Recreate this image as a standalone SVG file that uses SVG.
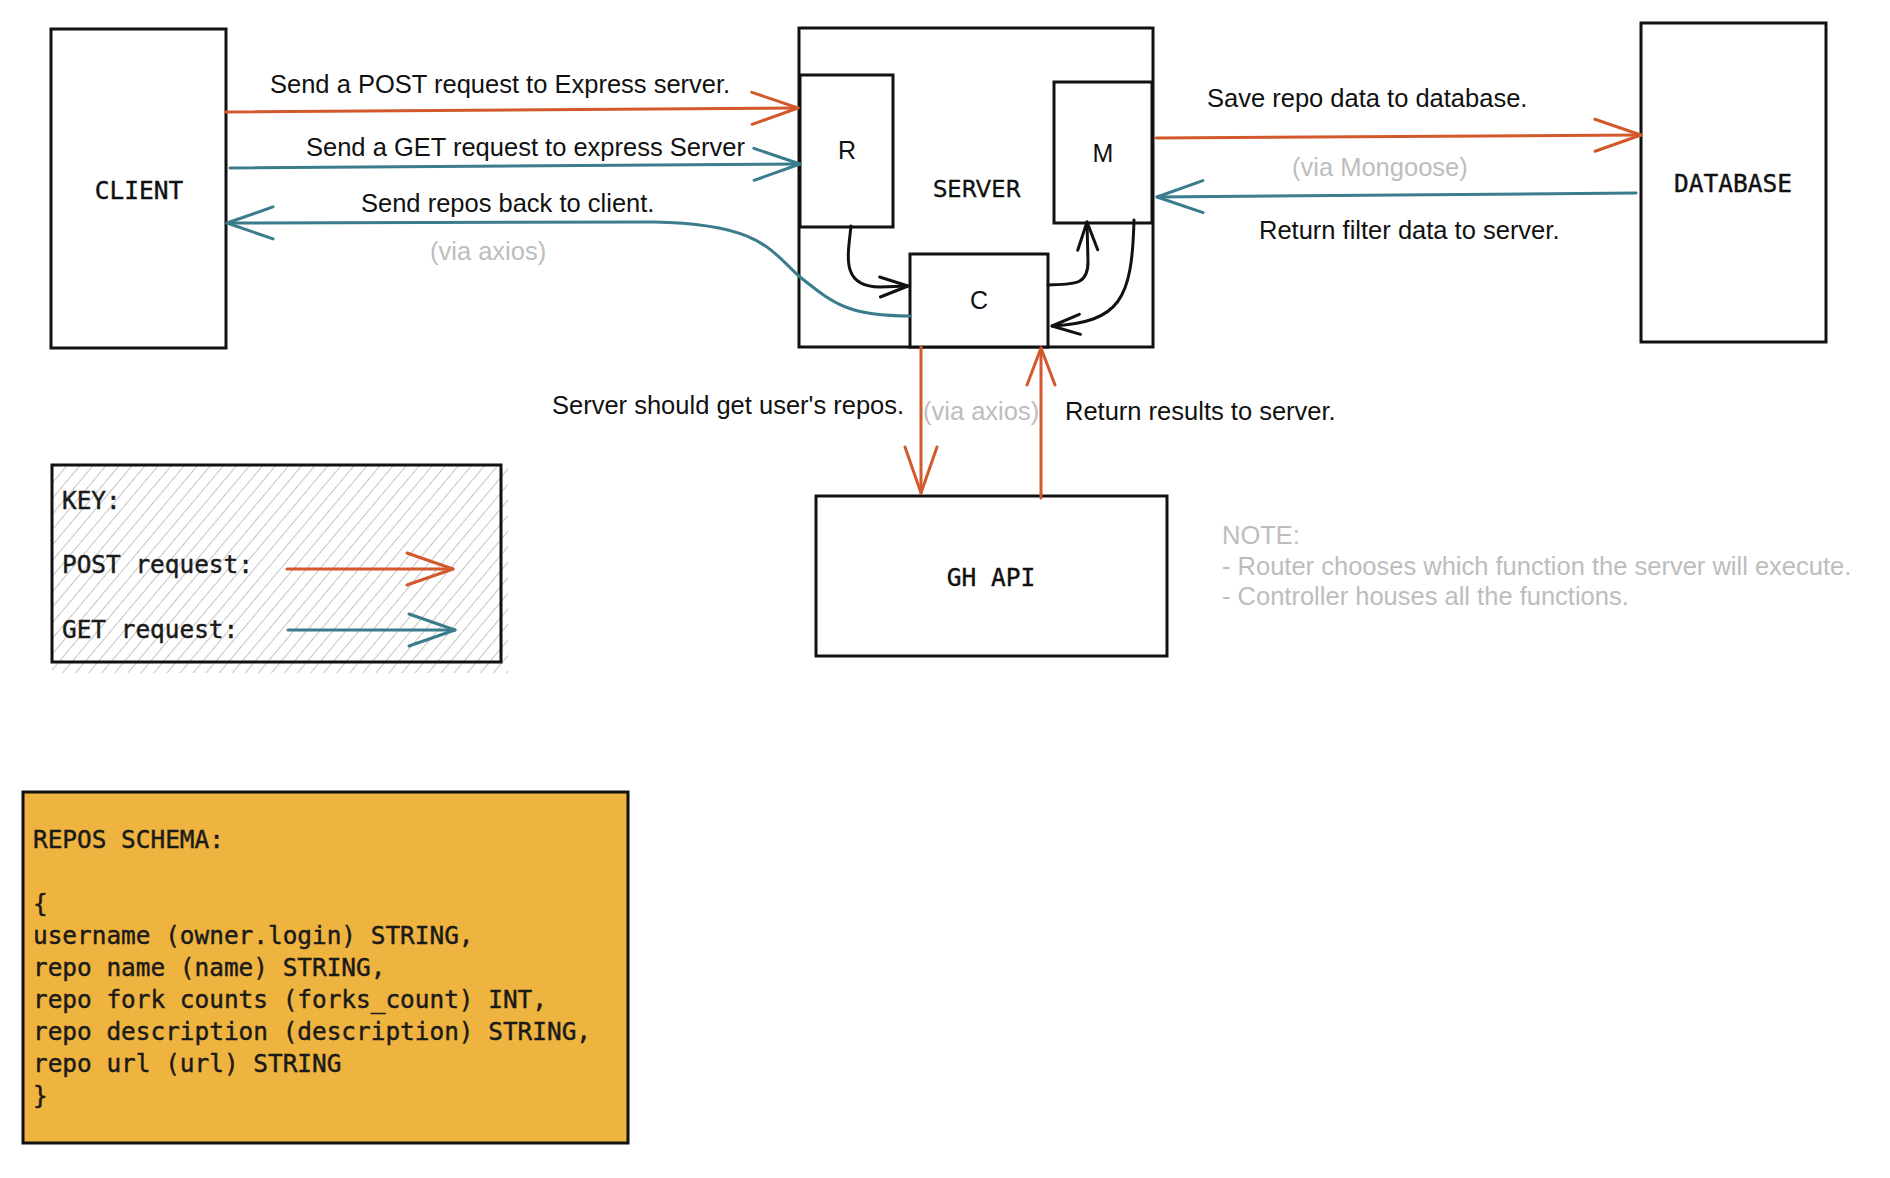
<svg xmlns="http://www.w3.org/2000/svg" width="1890" height="1178" viewBox="0 0 1890 1178">
<style>
.box{fill:#fff;stroke:#111;stroke-width:3}
.lbl{font-family:"Liberation Sans",Arial,sans-serif;font-size:25.5px;fill:#111}
.gray{fill:#BDBDBD}
.mono{font-family:"DejaVu Sans Mono",monospace;font-size:24.5px;fill:#111;stroke:#111;stroke-width:0.4}
.code{font-family:"DejaVu Sans Mono",monospace;font-size:24.4px;fill:#1a1a1a;stroke:#1a1a1a;stroke-width:0.45}
.sans{font-family:"Liberation Sans",Arial,sans-serif;font-size:25px;fill:#111}
.o{fill:none;stroke:#D3592C;stroke-width:3;stroke-linecap:round;stroke-linejoin:round}
.t{fill:none;stroke:#3A7B8C;stroke-width:3;stroke-linecap:round;stroke-linejoin:round}
.k{fill:none;stroke:#111;stroke-width:3;stroke-linecap:round;stroke-linejoin:round}
</style>
<defs>
<marker id="mo" markerUnits="userSpaceOnUse" markerWidth="60" markerHeight="40" refX="0" refY="0" orient="auto" overflow="visible"><path d="M-46,-16 L0,0 L-46,16" class="o"/></marker>
<marker id="mo2" markerUnits="userSpaceOnUse" markerWidth="60" markerHeight="40" refX="0" refY="0" orient="auto" overflow="visible"><path d="M-37,-14 L0,0 L-37,14" class="o"/></marker>
<marker id="mt" markerUnits="userSpaceOnUse" markerWidth="60" markerHeight="40" refX="0" refY="0" orient="auto" overflow="visible"><path d="M-46,-16 L0,0 L-46,16" class="t"/></marker>
<marker id="mk" markerUnits="userSpaceOnUse" markerWidth="40" markerHeight="30" refX="0" refY="0" orient="auto" overflow="visible"><path d="M-28,-10 L0,0 L-28,10" class="k"/></marker>
<pattern id="hatch" patternUnits="userSpaceOnUse" width="10" height="10" patternTransform="rotate(40)"><line x1="0" y1="0" x2="0" y2="10" stroke="#BDBDBD" stroke-width="1.8"/></pattern>
</defs>
<rect width="1890" height="1178" fill="#fff"/>

<g id="client"><rect class="box" x="51" y="29" width="175" height="319"/><text class="mono" x="139" y="199" text-anchor="middle">CLIENT</text></g>
<g id="server"><rect class="box" x="799" y="28" width="354" height="319"/><text x="977" y="197" text-anchor="middle" style="font-family:'DejaVu Sans',sans-serif;font-size:22.5px;fill:#111;stroke:#111;stroke-width:0.3">SERVER</text></g>
<g id="router"><rect class="box" x="800" y="75" width="93" height="152"/><text class="sans" x="847" y="159" text-anchor="middle">R</text></g>
<g id="model"><rect class="box" x="1054" y="82" width="98" height="141"/><text class="sans" x="1103" y="162" text-anchor="middle">M</text></g>
<g id="controller"><rect class="box" x="910" y="254" width="138" height="93"/><text class="sans" x="979" y="309" text-anchor="middle">C</text></g>
<g id="database"><rect class="box" x="1641" y="23" width="185" height="319"/><text class="mono" x="1733" y="192" text-anchor="middle">DATABASE</text></g>
<g id="ghapi"><rect class="box" x="816" y="496" width="351" height="160"/><text class="mono" x="991" y="586" text-anchor="middle">GH API</text></g>

<g id="key">
<rect x="52" y="465" width="456" height="208" fill="url(#hatch)"/>
<rect x="52" y="465" width="449" height="197" fill="none" stroke="#111" stroke-width="3"/>
<text class="code" x="62" y="509">KEY:</text>
<text class="code" x="62" y="573">POST request:</text>
<text class="code" x="62" y="638">GET request:</text>
<path class="o" d="M287,569 L453,569" marker-end="url(#mo)"/>
<path class="t" d="M288,630 L455,630" marker-end="url(#mt)"/>
</g>

<g id="note" class="lbl gray">
<text x="1222" y="544">NOTE:</text>
<text x="1222" y="575">- Router chooses which function the server will execute.</text>
<text x="1222" y="605">- Controller houses all the functions.</text>
</g>

<g id="schema">
<rect x="23" y="792" width="605" height="351" fill="#EFB33F" stroke="#111" stroke-width="3"/>
<g class="code">
<text x="33" y="848">REPOS SCHEMA:</text>
<text x="33" y="912">{</text>
<text x="33" y="944">username (owner.login) STRING,</text>
<text x="33" y="976">repo name (name) STRING,</text>
<text x="33" y="1008">repo fork counts (forks_count) INT,</text>
<text x="33" y="1040">repo description (description) STRING,</text>
<text x="33" y="1072">repo url (url) STRING</text>
<text x="33" y="1104">}</text>
</g>
</g>

<g id="connectors">
<path class="o" d="M226,112 L798,108" marker-end="url(#mo)"/>
<path class="t" d="M230,168 L800,164" marker-end="url(#mt)"/>
<path class="t" d="M910,316 C850,316 835,305 800,277 C770,250 760,224 654,222 L227,223" marker-end="url(#mt)"/>
<path class="o" d="M1156,138 L1641,135" marker-end="url(#mo)"/>
<path class="t" d="M1636,193 L1157,197" marker-end="url(#mt)"/>
<path class="o" d="M921,347 L921,493" marker-end="url(#mo)"/>
<path class="o" d="M1041,498 L1041,348" marker-end="url(#mo2)"/>
<path class="k" d="M851,226 C848,255 840,287 880,287 L908,286" marker-end="url(#mk)"/>
<path class="k" d="M1048,285 C1075,284 1088,285 1088,262 L1087,222" marker-end="url(#mk)"/>
<path class="k" d="M1134,220 C1132,300 1120,322 1052,326" marker-end="url(#mk)"/>
<g class="lbl">
<text x="270" y="93">Send a POST request to Express server.</text>
<text x="306" y="156">Send a GET request to express Server</text>
<text x="361" y="212">Send repos back to client.</text>
<text class="gray" x="430" y="260">(via axios)</text>
<text x="1207" y="107">Save repo data to database.</text>
<text class="gray" x="1292" y="176">(via Mongoose)</text>
<text x="1259" y="239">Return filter data to server.</text>
<text x="552" y="414">Server should get user's repos.</text>
<text class="gray" x="923" y="420">(via axios)</text>
<text x="1065" y="420">Return results to server.</text>
</g>
</g>
</svg>
